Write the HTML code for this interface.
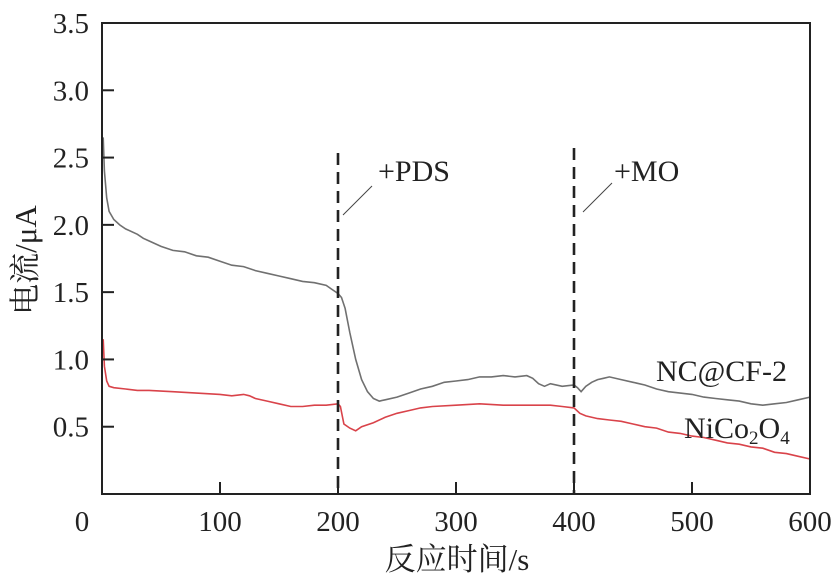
<!DOCTYPE html>
<html><head><meta charset="utf-8">
<style>
body{margin:0;background:#fff}
svg{display:block;font-family:"Liberation Serif","Noto Serif CJK SC",serif}
</style></head>
<body>
<svg id="chart" width="840" height="580" viewBox="0 0 840 580">
<g id="plot"></g>
</svg>
<script>
const xTicks=[0,100,200,300,400,500,600];
const xTickLabels=["","100","200","300","400","500","600"];
const yTicks=[0.5,1.0,1.5,2.0,2.5,3.0,3.5];
const yTickLabels=["0.5","1.0","1.5","2.0","2.5","3.0","3.5"];
const ncT=[1,2,4,6,10,15,20,30,35,40,50,60,70,80,90,100,110,120,130,140,150,160,170,180,190,195,200,203,206,210,215,220,225,230,235,240,250,260,270,280,290,300,310,320,330,340,350,360,365,370,375,380,390,400,403,406,410,415,420,425,430,440,450,460,470,480,490,500,510,520,530,540,550,560,570,580,590,600];
const ncV=[2.65,2.4,2.2,2.1,2.04,2.0,1.97,1.93,1.9,1.88,1.84,1.81,1.8,1.77,1.76,1.73,1.7,1.69,1.66,1.64,1.62,1.6,1.58,1.57,1.55,1.52,1.49,1.46,1.38,1.2,1.0,0.85,0.76,0.71,0.69,0.7,0.72,0.75,0.78,0.8,0.83,0.84,0.85,0.87,0.87,0.88,0.87,0.88,0.86,0.82,0.8,0.82,0.8,0.81,0.79,0.76,0.8,0.83,0.85,0.86,0.87,0.85,0.83,0.81,0.78,0.76,0.75,0.74,0.72,0.71,0.7,0.69,0.67,0.66,0.67,0.68,0.7,0.72];
const niT=[1,2,4,6,10,20,30,40,60,80,100,110,120,125,130,140,150,160,170,180,190,200,202,205,210,215,220,230,240,250,260,270,280,300,320,340,360,380,390,400,405,410,420,430,440,450,460,470,480,490,500,510,520,530,540,550,560,570,580,590,600];
const niV=[1.15,0.95,0.84,0.8,0.79,0.78,0.77,0.77,0.76,0.75,0.74,0.73,0.74,0.73,0.71,0.69,0.67,0.65,0.65,0.66,0.66,0.67,0.65,0.52,0.49,0.47,0.5,0.53,0.57,0.6,0.62,0.64,0.65,0.66,0.67,0.66,0.66,0.66,0.65,0.64,0.6,0.58,0.56,0.55,0.54,0.52,0.5,0.49,0.46,0.45,0.43,0.42,0.4,0.38,0.37,0.35,0.34,0.31,0.3,0.28,0.26];
const L=102,R=810,T=23,B=494;
const xs=v=>L+(v/600)*(R-L);
const ys=v=>B-(v/3.5)*(B-T);
const NS="http://www.w3.org/2000/svg";
const g=document.getElementById('plot');
function mk(tag,attrs){const e=document.createElementNS(NS,tag);for(const k in attrs)e.setAttribute(k,attrs[k]);g.appendChild(e);return e;}
let e=mk('path',{d:ncT.map((t,i)=>(i?'L':'M')+xs(t).toFixed(1)+','+ys(ncV[i]).toFixed(1)).join(''),fill:'none',stroke:'#707070','stroke-width':1.6});


e=mk('path',{d:niT.map((t,i)=>(i?'L':'M')+xs(t).toFixed(1)+','+ys(niV[i]).toFixed(1)).join(''),fill:'none',stroke:'#d9434a','stroke-width':1.6});


e=mk('line',{x1:xs(200),x2:xs(200),y1:153,y2:B,stroke:'#222','stroke-width':2.6,'stroke-dasharray':'12,7'});


e=mk('line',{x1:xs(400),x2:xs(400),y1:148,y2:B,stroke:'#222','stroke-width':2.6,'stroke-dasharray':'12,7'});


e=mk('line',{x1:343,y1:215,x2:372,y2:186,stroke:'#444','stroke-width':1});


e=mk('line',{x1:583,y1:212,x2:612,y2:183,stroke:'#444','stroke-width':1});


e=mk('rect',{x:L,y:T,width:R-L,height:B-T,fill:'none',stroke:'#222','stroke-width':2});


xTicks.forEach((t,i)=>{
  const l=mk('line',{x1:xs(t),x2:xs(t),y1:B,y2:B-12,stroke:'#222','stroke-width':2});
  
  
  const tx=mk('text',{x:xs(t),y:531,'font-size':29,'text-anchor':'middle',fill:'#222'});
  tx.textContent=xTickLabels[i];
  
  
});
yTicks.forEach((t,i)=>{
  if(t<3.5){const l=mk('line',{x1:L,x2:L+12,y1:ys(t),y2:ys(t),stroke:'#222','stroke-width':2});
  
  }
  const tx=mk('text',{x:89,y:ys(t)+10,'font-size':29,'text-anchor':'end',fill:'#222'});
  tx.textContent=yTickLabels[i];
  
  
});
</script>
<svg style="position:absolute;left:0;top:0" width="840" height="580">
<text x="82" y="531" font-size="29" text-anchor="middle" fill="#222" font-family="Liberation Serif">0</text>
<text x="457" y="570" font-size="31" text-anchor="middle" fill="#222" font-family="Liberation Serif, Noto Serif CJK SC, serif">反应时间/s</text>
<text transform="translate(36,260) rotate(-90)" font-size="31" text-anchor="middle" fill="#222" font-family="Liberation Serif, Noto Serif CJK SC, serif">电流/μA</text>
<text x="378" y="181" font-size="30" fill="#222" font-family="Liberation Serif">+PDS</text>
<text x="614" y="181" font-size="30" fill="#222" font-family="Liberation Serif">+MO</text>
<text x="656" y="381" font-size="30" fill="#222" font-family="Liberation Serif">NC@CF-2</text>
<text x="684" y="438" font-size="30" fill="#222" font-family="Liberation Serif">NiCo<tspan font-size="19" dy="6">2</tspan><tspan dy="-6">O</tspan><tspan font-size="19" dy="6">4</tspan></text>
</svg>
</body></html>
